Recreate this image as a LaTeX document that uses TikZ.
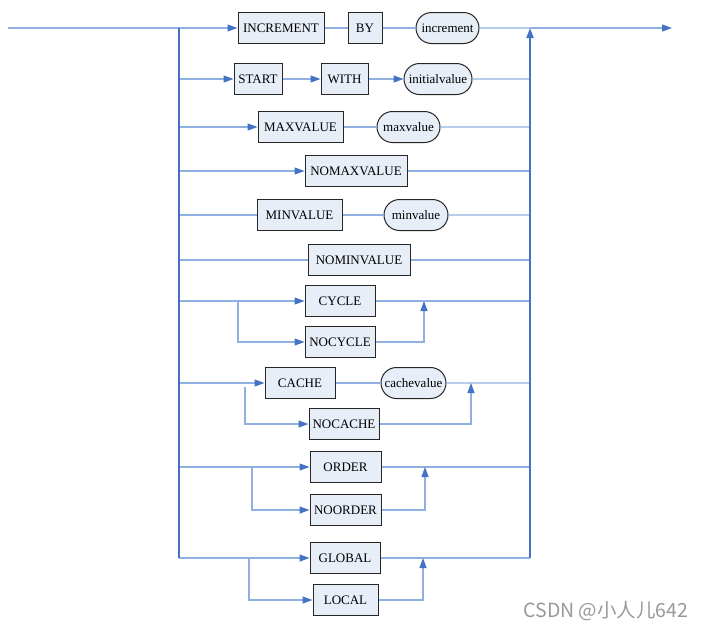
\documentclass[tikz,border=0pt]{standalone}
\usepackage{fontspec}
\setmainfont{Liberation Serif}
\newfontfamily\cjkfont{Noto Sans CJK SC}
\usetikzlibrary{positioning, arrows.meta, shapes.misc}
\definecolor{railblue}{HTML}{4472C4}
\definecolor{linkblue}{HTML}{8FB0E0}
\definecolor{boxfill}{HTML}{E8EEF8}

\begin{document}
\begin{tikzpicture}[
    x=1pt, y=-1pt,
    >={Triangle[length=10pt, width=7pt, color=railblue]},
    font=\fontsize{13}{15}\selectfont,
    keyword/.style={draw=black!85, fill=boxfill, line width=1pt, minimum height=31pt, minimum width=#1, inner sep=1pt},
    keyword/.default=70pt,
    value/.style={keyword=#1, rounded rectangle},
    value/.default=66pt,
    link/.style={draw=linkblue, line width=1.2pt},
    arrow/.style={link, ->},
    rail/.style={draw=railblue, line width=2pt}
]
\useasboundingbox (0,0) rectangle (706,630);

%% ============================================================
%% RAILS
%% ============================================================
\coordinate (entry) at (8,28);
\coordinate (exit) at (672,28);
\coordinate (lrail) at (179,28);
\coordinate (rrail) at (530,28);

%% ============================================================
%% OPTIONS
%% ============================================================
\node[keyword=86pt] (inc) at (281,28) {INCREMENT};
\node[keyword=34pt] (by) at (365,28) {BY};
\node[value=65pt] (incv) at (447.5,28) {increment};

\node[keyword=48pt] (start) at (258,79) {START};
\node[keyword=47pt] (with) at (344.5,79) {WITH};
\node[value=70pt] (initv) at (438,79) {initialvalue};

\node[keyword=85pt] (maxv) at (300.5,127) {MAXVALUE};
\node[value=65pt] (maxvv) at (408.5,127) {maxvalue};

\node[keyword=102pt] (nomax) at (356,171) {NOMAXVALUE};

\node[keyword=85pt] (minv) at (299.5,215) {MINVALUE};
\node[value=66pt] (minvv) at (416,215) {minvalue};

\node[keyword=102pt] (nomin) at (359,260) {NOMINVALUE};

\node[keyword] (cyc) at (340,301) {CYCLE};
\node[keyword] (nocyc) at (340,342) {NOCYCLE};

\node[keyword] (cache) at (300,383) {CACHE};
\node[value=67pt] (cachev) at (413.5,383) {cachevalue};
\node[keyword] (nocache) at (344,424) {NOCACHE};

\node[keyword=71pt] (ord) at (345.5,467) {ORDER};
\node[keyword=71pt] (noord) at (345.5,510) {NOORDER};

\node[keyword] (glob) at (345,558) {GLOBAL};
\node[keyword=65pt] (loc) at (345.5,600) {LOCAL};

%% --- Connectors ---
\draw[link] (entry) -- (lrail);
\draw[arrow] (lrail) -- (inc);
\draw[link] (inc) -- (by);
\draw[link] (by) -- (incv);
\draw[link] (incv) -- (rrail);
\draw[arrow] (rrail) -- (exit);

\draw[arrow] (lrail |- start) -- (start);
\draw[arrow] (start) -- (with);
\draw[arrow] (with) -- (initv);
\draw[link] (initv) -- (initv -| rrail);

\draw[arrow] (lrail |- maxv) -- (maxv);
\draw[link] (maxv) -- (maxvv);
\draw[link] (maxvv) -- (maxvv -| rrail);

\draw[arrow] (lrail |- nomax) -- (nomax);
\draw[link] (nomax) -- (nomax -| rrail);

\draw[link] (lrail |- minv) -- (minv);
\draw[link] (minv) -- (minvv);
\draw[link] (minvv) -- (minvv -| rrail);

\draw[link] (lrail |- nomin) -- (nomin);
\draw[link] (nomin) -- (nomin -| rrail);

\coordinate (cachesplit) at (245,387);
\coordinate (cachejoin) at (471,383);
\draw[arrow] (lrail |- cache) -- (cache);
\draw[link] (cache) -- (cachev);
\draw[link] (cachev) -- (cachev -| rrail);
\draw[arrow] (cachesplit) |- (nocache);
\draw[arrow] (nocache) -| (cachejoin);

\foreach \opta/\optb/\splitx/\joinx in {cyc/nocyc/238/424, ord/noord/252/425, glob/loc/249/423} {
    \coordinate (\opta-s) at (\splitx,0);
    \coordinate (\opta-j) at (\joinx,0);
    \draw[arrow] (lrail |- \opta) -- (\opta);
    \draw[link] (\opta) -- (\opta -| rrail);
    \draw[arrow] (\opta-s |- \opta) |- (\optb);
    \draw[arrow] (\optb) -| (\opta-j |- \opta);
}

\draw[rail] (lrail) -- (lrail |- glob);
\draw[rail, ->] (rrail |- glob) -- (rrail);

\node[anchor=west, text=black!40, font=\cjkfont\fontsize{19.5}{21}\selectfont] (mark) at (520,611) {CSDN @小人儿642};

\end{tikzpicture}
\end{document}
